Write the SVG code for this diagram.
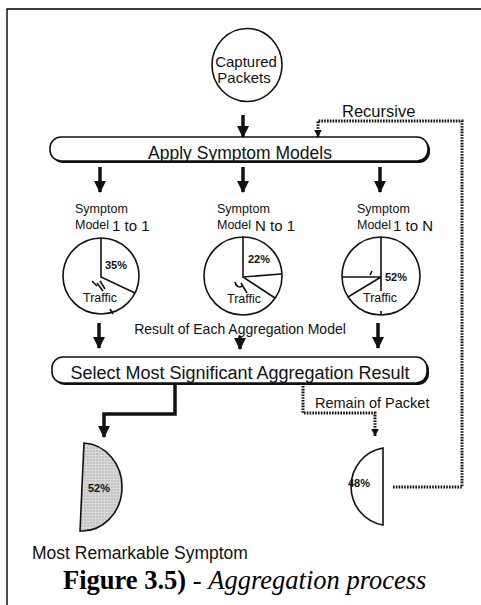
<svg xmlns="http://www.w3.org/2000/svg" width="481" height="605" viewBox="0 0 481 605">
  <defs>
    <style>
      .t { font-family: "Liberation Sans", Arial, sans-serif; fill: #111; }
      .cap { font-family: "Liberation Serif", "Times New Roman", serif; fill: #000; font-size: 26.5px; }
      .lbl { font-size: 12.5px; }
      .kind { font-size: 15px; }
      .pct { font-size: 11px; font-weight: bold; }
      .trf { font-size: 12.5px; }
      .ln { stroke: #111; fill: none; stroke-width: 1.6; }
      .pie { stroke: #111; fill: #fff; stroke-width: 1.6; }
      .thick { stroke: #111; fill: none; stroke-width: 3.5; }
      .dot { stroke: #111; fill: none; stroke-width: 3; stroke-dasharray: 1.6 1.2; }
      .box { fill: #fff; stroke: #111; stroke-width: 1.6; }
      .shadow { fill: #111; }
    </style>
    <marker id="head" markerUnits="userSpaceOnUse" markerWidth="12" markerHeight="12" viewBox="0 0 12 12" refX="11" refY="6" orient="auto">
      <path d="M0,0 L12,6 L0,12 Z" fill="#111"/>
    </marker>
    <marker id="headSm" markerUnits="userSpaceOnUse" markerWidth="8" markerHeight="8" viewBox="0 0 8 8" refX="7.5" refY="4" orient="auto">
      <path d="M0,0 L8,4 L0,8 Z" fill="#111"/>
    </marker>
    <pattern id="stipple" width="3" height="3" patternUnits="userSpaceOnUse">
      <rect width="3" height="3" fill="#d9d9d9"/>
      <circle cx="1" cy="1" r="0.7" fill="#9a9a9a"/>
    </pattern>
  </defs>

  <!-- page frame -->
  <path d="M7,605 L7,9 L481,9" fill="none" stroke="#000" stroke-width="1.4"/>

  <!-- connectors -->
  <g id="connectors">
    <line class="thick" x1="243" y1="115" x2="243" y2="137" marker-end="url(#head)"/>
    <line class="thick" x1="100" y1="167" x2="100" y2="192" marker-end="url(#head)"/>
    <line class="thick" x1="243" y1="167" x2="243" y2="192" marker-end="url(#head)"/>
    <line class="thick" x1="380" y1="167" x2="380" y2="192" marker-end="url(#head)"/>
    <line class="thick" x1="99" y1="323" x2="99" y2="348" marker-end="url(#head)"/>
    <line class="thick" x1="240" y1="336" x2="240" y2="349" marker-end="url(#head)"/>
    <line class="thick" x1="378" y1="323" x2="378" y2="348" marker-end="url(#head)"/>
    <!-- selected result -->
    <path class="thick" d="M175,385 L175,414 L104,414 L104,437" stroke-width="4" marker-end="url(#head)"/>
    <!-- remaining packets -->
    <path class="dot" d="M303,386 L303,413 L375,413 L375,436" marker-end="url(#headSm)"/>
    <!-- recursive loop -->
    <path class="dot" d="M393,487 L462,487 L462,121 L318,121 L318,137" marker-end="url(#headSm)"/>
  </g>

  <!-- captured packets -->
  <g id="captured">
    <ellipse class="pie" cx="247" cy="65" rx="35" ry="36.5"/>
    <text class="t" x="246" y="67" font-size="15" text-anchor="middle">Captured</text>
    <text class="t" x="244" y="83" font-size="15" text-anchor="middle">Packets</text>
  </g>

  <!-- apply symptom models -->
  <g id="apply">
    <rect class="shadow" x="52" y="139" width="378" height="24" rx="11"/>
    <rect class="box" x="50" y="137" width="378" height="24" rx="11"/>
    <text class="t" x="240" y="159" font-size="17.5" text-anchor="middle">Apply Symptom Models</text>
  </g>

  <text class="t" x="342" y="117" font-size="16.5">Recursive</text>

  <!-- model 1 to 1 -->
  <g id="model-1-1">
    <text class="t lbl" x="75" y="213">Symptom</text>
    <text class="t lbl" x="75" y="229">Model</text>
    <text class="t kind" x="112" y="231">1 to 1</text>
    <circle class="pie" cx="101" cy="276" r="38"/>
    <path class="ln" d="M101,238 L101,277 L135,293"/>
    <path class="ln" d="M92,281 L97,286 M97,283 L103,291 M100,281 L105,289 M110,309 L113,314"/>
    <text class="t pct" x="105" y="269">35%</text>
    <text class="t trf" x="83" y="302">Traffic</text>
  </g>

  <!-- model N to 1 -->
  <g id="model-n-1">
    <text class="t lbl" x="217" y="213">Symptom</text>
    <text class="t lbl" x="217" y="229">Model</text>
    <text class="t kind" x="255" y="231">N to 1</text>
    <circle class="pie" cx="243" cy="276" r="39"/>
    <path class="ln" d="M243,237 L243,277 L281,274 M243,277 L275,298"/>
    <path class="ln" d="M235,282 C236,287 240,288 242,286 M241,283 L247,293"/>
    <text class="t pct" x="248" y="263">22%</text>
    <text class="t trf" x="227" y="303">Traffic</text>
  </g>

  <!-- model 1 to N -->
  <g id="model-1-n">
    <text class="t lbl" x="357" y="213">Symptom</text>
    <text class="t lbl" x="357" y="229">Model</text>
    <text class="t kind" x="393" y="231">1 to N</text>
    <circle class="pie" cx="381" cy="276" r="39"/>
    <path class="ln" d="M381,237 L381,291 M381,277 L342,277 M381,277 L348,297 M381,311 L381,315 M370,275 L372,271"/>
    <text class="t pct" x="385" y="281">52%</text>
    <text class="t trf" x="363" y="302">Traffic</text>
  </g>

  <text class="t" x="240" y="334" font-size="14" text-anchor="middle">Result of Each Aggregation Model</text>

  <!-- select most significant -->
  <g id="select">
    <rect class="shadow" x="54" y="359" width="375" height="26" rx="11"/>
    <rect class="box" x="52" y="357" width="375" height="26" rx="11"/>
    <text class="t" x="240" y="379" font-size="18" text-anchor="middle">Select Most Significant Aggregation Result</text>
  </g>

  <text class="t" x="315" y="408" font-size="14.5">Remain of Packet</text>

  <!-- most remarkable symptom -->
  <g id="remarkable">
    <path d="M84,443 A40 44 0 0 1 80,531 Z" fill="url(#stipple)" stroke="#111" stroke-width="1.6"/>
    <text class="t pct" x="88" y="492">52%</text>
    <text class="t" x="32" y="559" font-size="17.5">Most Remarkable Symptom</text>
  </g>

  <!-- remaining part -->
  <g id="remain">
    <path class="pie" d="M383,525 A38 39 0 0 1 383,448 Z"/>
    <text class="t pct" x="348" y="487">48%</text>
  </g>

  <text class="cap" x="63" y="589"><tspan font-weight="bold">Figure 3.5)</tspan> - <tspan font-style="italic">Aggregation process</tspan></text>
</svg>
